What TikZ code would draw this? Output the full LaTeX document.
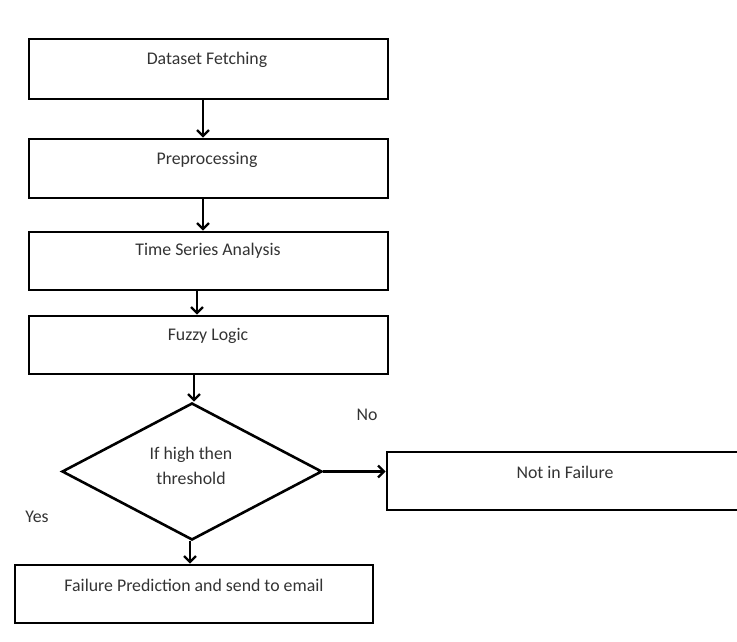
\documentclass[tikz,border=0pt]{standalone}
\usepackage{fontspec}
\setmainfont{Carlito}
\usetikzlibrary{shapes.geometric,arrows.meta}
\begin{document}
\begin{tikzpicture}[x=1pt,y=-1pt,
  box/.style={draw=black, line width=2.6pt, rectangle, inner sep=0pt},
  lbl/.style={font=\fontsize{17.8}{25}\selectfont, text=black!80, inner sep=0pt},
  arr/.style={draw=black, line width=2.4pt, -{Straight Barb[length=6pt,width=12pt,line width=2.4pt]}}]
\useasboundingbox (0,0) rectangle (737,642);
\clip (0,0) rectangle (737,642);
% boxes
\node[box, minimum width=359pt, minimum height=60pt] (b1) at (208.5,69) {};
\node[box, minimum width=359pt, minimum height=59pt] (b2) at (208.5,168.5) {};
\node[box, minimum width=359pt, minimum height=58pt] (b3) at (208.5,261) {};
\node[box, minimum width=359pt, minimum height=58pt] (b4) at (208.5,345) {};
\node[draw=black, line width=2.6pt, diamond, inner sep=0pt, minimum width=260pt, minimum height=137pt] (d) at (192,471.5) {};
\node[box, minimum width=360pt, minimum height=58pt] (b5) at (567,481) {};
\node[box, minimum width=358pt, minimum height=58pt] (b6) at (194,594) {};
% texts
\node[lbl] (t1) at (207,60) {Dataset Fetching};
\node[lbl] (t2) at (207,160) {Preprocessing};
\node[lbl] (t3) at (208,251) {Time Series Analysis};
\node[lbl] (t4) at (208,336) {Fuzzy Logic};
\node[lbl, align=center] (t5) at (191,465.5) {If high then\\threshold};
\node[lbl] (t6) at (565,472) {Not in Failure};
\node[lbl] (t7) at (194,585) {Failure Prediction and send to email};
\node[lbl] (no) at (367,415) {No};
\node[lbl] (yes) at (37,517) {Yes};
% arrows
\draw[arr] (b1.south -| 203,0) -- (b2.north -| 203,0);
\draw[arr] (b2.south -| 203,0) -- (b3.north -| 203,0);
\draw[arr] (b3.south -| 197,0) -- (b4.north -| 197,0);
\draw[arr] (b4.south -| 194,0) -- (d.north -| 194,0);
\draw[arr] (d.east) -- (d.east -| b5.west);
\draw[arr] (d.south -| 190,0) -- (b6.north -| 190,0);
\end{tikzpicture}
\end{document}
